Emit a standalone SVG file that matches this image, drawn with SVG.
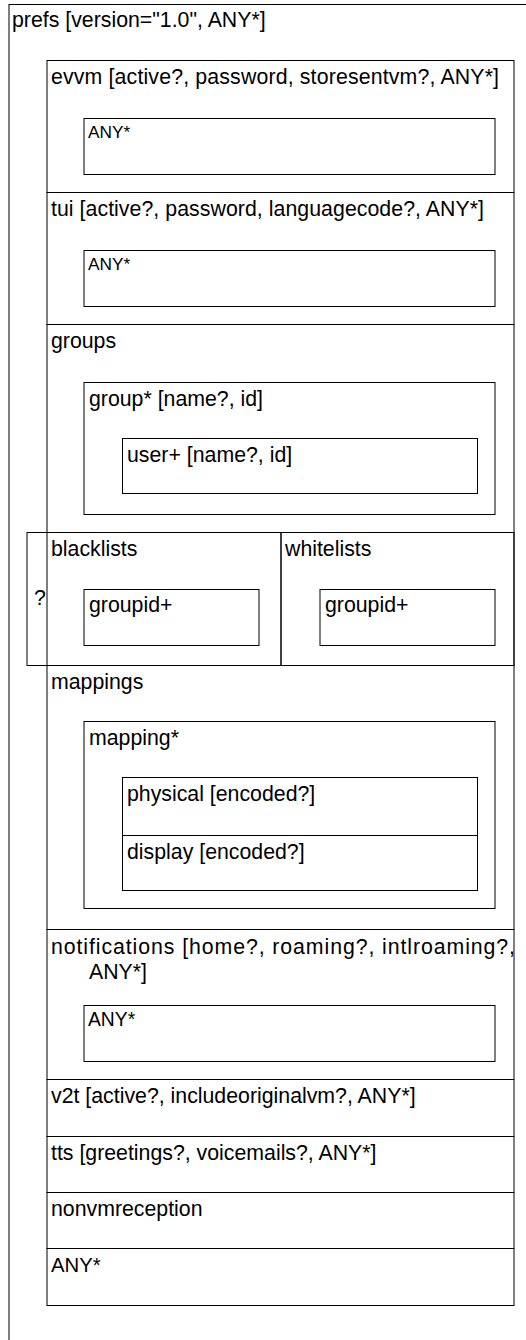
<svg xmlns="http://www.w3.org/2000/svg" width="526" height="1340" viewBox="0 0 526 1340">
<style>
rect{fill:none;stroke:#000;stroke-width:1}
text{font-family:"Liberation Sans",Arial,sans-serif;font-size:21.3px;fill:#000}
text.any{font-size:17.3px}
</style>
<rect x="0" y="0" width="526" height="1340" style="fill:#fff;stroke:none"/>
<g id="prefs">
<rect x="9" y="4.5" width="540" height="1350"/>
<text x="12" y="26.5">prefs [version="1.0", ANY*]</text>
</g>
<g id="evvm">
<rect x="47" y="60.5" width="467" height="132"/>
<text x="51" y="83.5" textLength="448" lengthAdjust="spacing">evvm [active?, password, storesentvm?, ANY*]</text>
</g>
<g id="evvm-any">
<rect x="84" y="118.5" width="411" height="56"/>
<text class="any" x="88" y="138">ANY*</text>
</g>
<g id="tui">
<rect x="47" y="192.5" width="467" height="132"/>
<text x="51" y="215.5" textLength="433" lengthAdjust="spacing">tui [active?, password, languagecode?, ANY*]</text>
</g>
<g id="tui-any">
<rect x="84" y="250.5" width="411" height="56"/>
<text class="any" x="88" y="270">ANY*</text>
</g>
<g id="groups">
<rect x="47" y="324.5" width="467" height="208"/>
<text x="51" y="347.5">groups</text>
</g>
<g id="group">
<rect x="84" y="382.5" width="411" height="132"/>
<text x="89" y="405.5">group* [name?, id]</text>
</g>
<g id="user">
<rect x="122.5" y="438.5" width="355" height="55"/>
<text x="127" y="461.5">user+ [name?, id]</text>
</g>
<g id="choice">
<rect x="27" y="532.5" width="487" height="133"/>
<text x="34" y="605">?</text>
</g>
<g id="blacklists">
<rect x="47" y="532.5" width="234" height="133"/>
<text x="51" y="555.5">blacklists</text>
</g>
<g id="blacklists-groupid">
<rect x="84" y="589.5" width="175" height="56"/>
<text x="89" y="611.5">groupid+</text>
</g>
<g id="whitelists">
<rect x="281" y="532.5" width="233" height="133"/>
<text x="285" y="555.5">whitelists</text>
</g>
<g id="whitelists-groupid">
<rect x="320" y="589.5" width="175" height="56"/>
<text x="325" y="611.5">groupid+</text>
</g>
<g id="mappings">
<rect x="47" y="665.5" width="467" height="264"/>
<text x="51" y="688.5">mappings</text>
</g>
<g id="mapping">
<rect x="84" y="721.5" width="411" height="187"/>
<text x="89" y="744.5">mapping*</text>
</g>
<g id="physical">
<rect x="122.5" y="777.5" width="355" height="58"/>
<text x="127" y="800.5">physical [encoded?]</text>
</g>
<g id="display">
<rect x="122.5" y="835.5" width="355" height="55"/>
<text x="127" y="858.5">display [encoded?]</text>
</g>
<g id="notifications">
<rect x="47" y="929.5" width="467" height="150"/>
<text x="51" y="953.5" textLength="464" lengthAdjust="spacing">notifications [home?, roaming?, intlroaming?,</text>
<text x="89" y="978.5">ANY*]</text>
</g>
<g id="notifications-any">
<rect x="84" y="1005.5" width="411" height="56"/>
<text x="88" y="1026" style="font-size:19.3px">ANY*</text>
</g>
<g id="v2t">
<rect x="47" y="1079.5" width="467" height="57"/>
<text x="51" y="1102.5">v2t [active?, includeoriginalvm?, ANY*]</text>
</g>
<g id="tts">
<rect x="47" y="1136.5" width="467" height="56"/>
<text x="51" y="1159.5">tts [greetings?, voicemails?, ANY*]</text>
</g>
<g id="nonvmreception">
<rect x="47" y="1192.5" width="467" height="56"/>
<text x="51" y="1215.5">nonvmreception</text>
</g>
<g id="any">
<rect x="47" y="1248.5" width="467" height="57"/>
<text x="51" y="1271.5" style="font-size:20.3px">ANY*</text>
</g>
<g id="connectors"></g>
</svg>
